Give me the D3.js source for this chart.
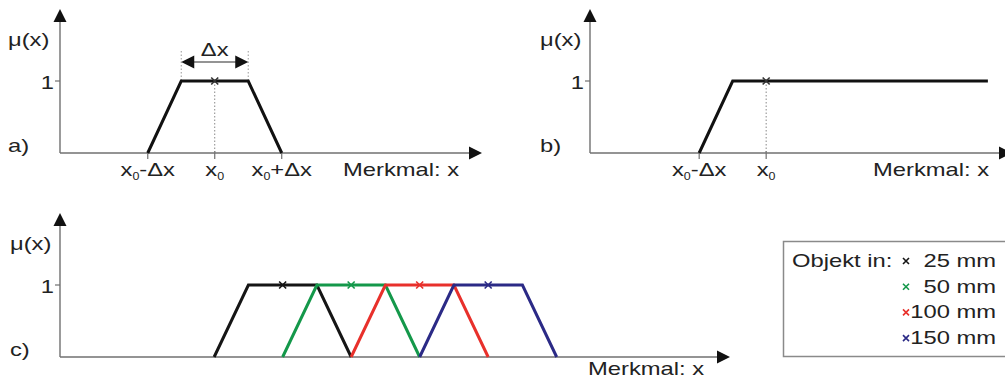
<!DOCTYPE html>
<html>
<head>
<meta charset="utf-8">
<script src="https://cdn.jsdelivr.net/npm/d3@7/dist/d3.min.js"></script>
<style>
  body { margin: 0; background: #fff; }
  text { font-family: "Liberation Sans", Arial, sans-serif; fill: #222; }
</style>
</head>
<body>
<div id="content"></div>
<script>
// membership functions, x in units of dx
const trapA = [[1.31, 0], [1.81, 1], [2.81, 1], [3.31, 0]];
const centerA = 2.31;
const trapB = [[1.63, 0], [2.13, 1], [5.94, 1]];
const centerB = 2.63;

const seriesNames = ['25 mm', '50 mm', '100 mm', '150 mm'];
const seriesColors = ['#151515', '#14984a', '#e8302b', '#2b2a86'];
const seriesC = [
    [[2.25, 0], [2.75, 1], [3.75, 1], [4.25, 0]],
    [[3.25, 0], [3.75, 1], [4.75, 1], [5.25, 0]],
    [[4.25, 0], [4.75, 1], [5.75, 1], [6.25, 0]],
    [[5.25, 0], [5.75, 1], [6.75, 1], [7.25, 0]]
];
const centersC = [3.25, 4.25, 5.25, 6.25];

const ticksA = [{v: 1.31, t: ['x', '0', '-Δx']}, {v: 2.31, t: ['x', '0', '']}, {v: 3.31, t: ['x', '0', '+Δx']}];
const ticksB = [{v: 1.63, t: ['x', '0', '-Δx']}, {v: 2.63, t: ['x', '0', '']}];

const svg = d3.select('#content').append('svg')
    .attr('width', 1005)
    .attr('height', 381);

const axisColor = '#707070';
const fontSize = 19;
const stretch = 1.25;

function label(g, x, y, parts, anchor) {
    const t = g.append('g')
        .attr('transform', 'translate(' + x + ',' + y + ') scale(' + stretch + ',1)')
        .append('text')
        .attr('font-size', fontSize)
        .attr('text-anchor', anchor || 'start');
    if (typeof parts === 'string') {
        t.text(parts);
    } else {
        t.append('tspan').text(parts[0]);
        t.append('tspan').attr('font-size', 10).attr('dy', 4).text(parts[1]);
        if (parts[2]) t.append('tspan').attr('dy', -4).text(parts[2]);
    }
    return t;
}

function panel(opts) {
    const g = svg.append('g');
    const x = d3.scaleLinear().domain(opts.xDomain).range(opts.xRange);
    const y = d3.scaleLinear().domain([0, 1]).range(opts.yRange);
    const x0 = opts.xRange[0], yb = opts.yRange[0];

    // axes with arrow heads
    g.append('line').attr('x1', x0).attr('x2', x(opts.xEnd) - 10).attr('y1', yb).attr('y2', yb)
        .attr('stroke', axisColor).attr('stroke-width', 1.4);
    g.append('line').attr('x1', x0).attr('x2', x0).attr('y1', yb).attr('y2', opts.yTop + 10)
        .attr('stroke', axisColor).attr('stroke-width', 1.4);
    const xt = x(opts.xEnd);
    g.append('path').attr('d', 'M' + xt + ',' + yb + 'L' + (xt - 13) + ',' + (yb - 6.5) + 'L' + (xt - 13) + ',' + (yb + 6.5) + 'Z')
        .attr('fill', '#111');
    g.append('path').attr('d', 'M' + x0 + ',' + opts.yTop + 'L' + (x0 - 6.5) + ',' + (opts.yTop + 13) + 'L' + (x0 + 6.5) + ',' + (opts.yTop + 13) + 'Z')
        .attr('fill', '#111');

    // y tick "1"
    g.append('line').attr('x1', x0 - 5).attr('x2', x0).attr('y1', y(1)).attr('y2', y(1))
        .attr('stroke', axisColor).attr('stroke-width', 1.2);
    label(g, x0 - 6, y(1) + 8, '1', 'end');

    label(g, opts.muX, opts.muY, 'μ(x)');
    label(g, opts.muX, yb - 1, opts.tag);
    label(g, opts.merkX, yb + opts.merkDy, 'Merkmal: x');

    (opts.ticks || []).forEach(d => {
        g.append('line').attr('x1', x(d.v)).attr('x2', x(d.v)).attr('y1', yb - 2).attr('y2', yb + 6)
            .attr('stroke', axisColor).attr('stroke-width', 1.2);
        label(g, x(d.v), yb + 23, d.t, 'middle');
    });

    return {g, x, y};
}

const line = (x, y) => d3.line().x(d => x(d[0])).y(d => y(d[1]));

function cross(g, cx, cy, color, size) {
    const s = size || 3.5;
    g.append('path')
        .attr('d', 'M' + (cx - s) + ',' + (cy - s) + 'L' + (cx + s) + ',' + (cy + s) + 'M' + (cx - s) + ',' + (cy + s) + 'L' + (cx + s) + ',' + (cy - s))
        .attr('stroke', color).attr('stroke-width', 1.6).attr('fill', 'none');
}

// ---- panel a
const A = panel({xDomain: [0, 6.3], xRange: [60, 482], yRange: [153, 81], xEnd: 6.3, yTop: 9,
    muX: 8, muY: 46, tag: 'a)', merkX: 343, merkDy: 23, ticks: ticksA});
A.g.append('line').attr('x1', A.x(centerA)).attr('x2', A.x(centerA)).attr('y1', A.y(1)).attr('y2', A.y(0))
    .attr('stroke', '#888').attr('stroke-width', 1).attr('stroke-dasharray', '1.5,2');
[trapA[1][0], trapA[2][0]].forEach(v => {
    A.g.append('line').attr('x1', A.x(v)).attr('x2', A.x(v)).attr('y1', 51).attr('y2', A.y(1))
        .attr('stroke', '#999').attr('stroke-width', 1).attr('stroke-dasharray', '1.5,2');
});
const ax1 = A.x(trapA[1][0]), ax2 = A.x(trapA[2][0]), ay = 62;
A.g.append('line').attr('x1', ax1 + 10).attr('x2', ax2 - 10).attr('y1', ay).attr('y2', ay)
    .attr('stroke', axisColor).attr('stroke-width', 1.3);
A.g.append('path').attr('d', 'M' + ax1 + ',' + ay + 'L' + (ax1 + 13) + ',' + (ay - 6.5) + 'L' + (ax1 + 13) + ',' + (ay + 6.5) + 'Z').attr('fill', '#111');
A.g.append('path').attr('d', 'M' + ax2 + ',' + ay + 'L' + (ax2 - 13) + ',' + (ay - 6.5) + 'L' + (ax2 - 13) + ',' + (ay + 6.5) + 'Z').attr('fill', '#111');
label(A.g, A.x(centerA), 56, 'Δx', 'middle');
A.g.append('path').datum(trapA).attr('d', line(A.x, A.y))
    .attr('fill', 'none').attr('stroke', '#111').attr('stroke-width', 3);
cross(A.g, A.x(centerA), A.y(1), '#333');

// ---- panel b
const B = panel({xDomain: [0, 6.3], xRange: [590, 1012], yRange: [153, 81], xEnd: 6.3, yTop: 9,
    muX: 540, muY: 46, tag: 'b)', merkX: 873, merkDy: 23, ticks: ticksB});
B.g.append('line').attr('x1', B.x(centerB)).attr('x2', B.x(centerB)).attr('y1', B.y(1)).attr('y2', B.y(0))
    .attr('stroke', '#888').attr('stroke-width', 1).attr('stroke-dasharray', '1.5,2');
B.g.append('path').datum(trapB).attr('d', line(B.x, B.y))
    .attr('fill', 'none').attr('stroke', '#111').attr('stroke-width', 3);
cross(B.g, B.x(centerB), B.y(1), '#333');

// ---- panel c
const C = panel({xDomain: [0, 9.78], xRange: [60, 730], yRange: [357, 285], xEnd: 9.78, yTop: 213,
    muX: 10, muY: 250, tag: 'c)', merkX: 588, merkDy: 18, ticks: []});
C.g.selectAll('path.mf').data(seriesC).enter().append('path')
    .classed('mf', true)
    .attr('d', line(C.x, C.y))
    .attr('fill', 'none')
    .attr('stroke', (d, i) => seriesColors[i])
    .attr('stroke-width', 3);
centersC.forEach((c, i) => cross(C.g, C.x(c), C.y(1), seriesColors[i]));

// ---- legend
const leg = svg.append('g');
leg.append('rect').attr('x', 783.5).attr('y', 241.5).attr('width', 240).attr('height', 115)
    .attr('fill', '#fff').attr('stroke', '#8a8a8a').attr('stroke-width', 1.5);
label(leg, 792, 267, 'Objekt in:');
seriesNames.forEach((n, i) => {
    const yy = 267 + i * 25.7;
    cross(leg, 906, yy - 6, seriesColors[i], 3);
    label(leg, 996, yy, n, 'end');
});
</script>
</body>
</html>
